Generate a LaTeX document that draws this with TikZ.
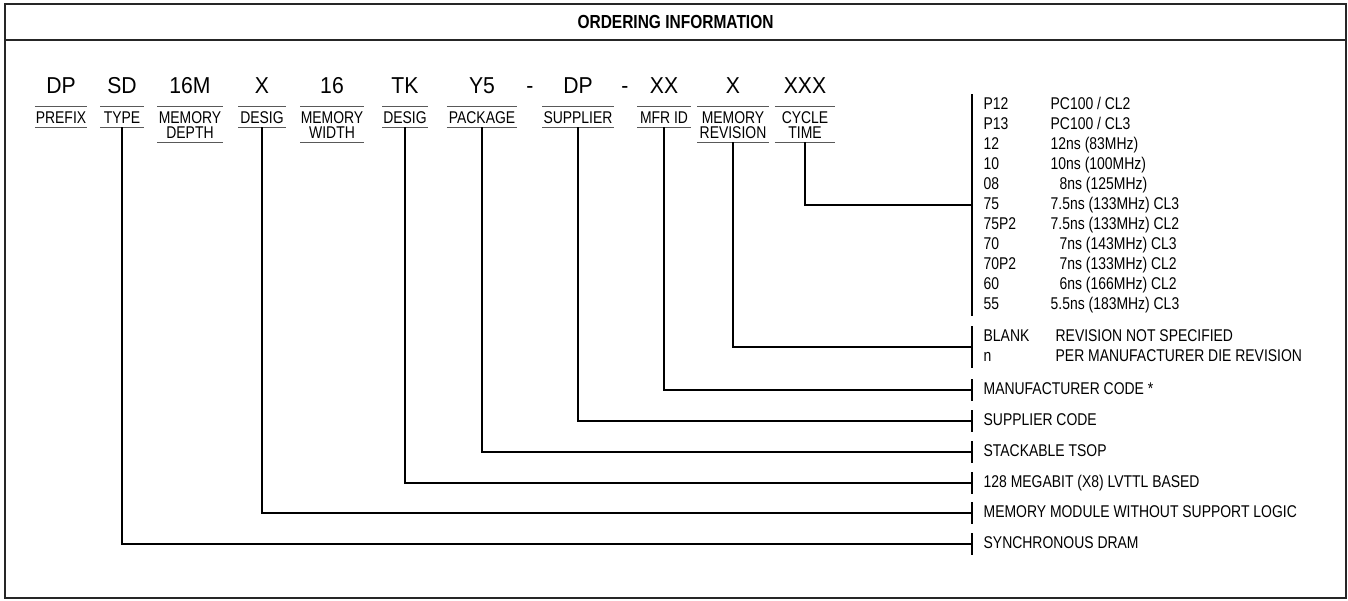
\documentclass[tikz,border=0pt]{standalone}
\usepackage{fontspec}
\setmainfont{Liberation Sans}[FakeStretch=0.82]
\newfontfamily\codefont{Liberation Sans}[FakeStretch=0.92]

\begin{document}
\begin{tikzpicture}[
    x=1pt, y=-1pt,
    line width=1.3pt,
    frame/.style={line width=2.2pt, black!85},
    rule/.style={line width=1pt, black!65},
    codetxt/.style={anchor=base, inner sep=0pt, font=\codefont\fontsize{23}{23}\selectfont},
    fieldlbl/.style={anchor=base, inner xsep=0pt, inner ysep=3.5pt, text height=12.2pt,
      text depth=0pt, align=center, minimum width=#1, font=\fontsize{17}{15}\selectfont},
    fieldlbl2/.style={fieldlbl=#1, text height=27.2pt},
    group/.style={anchor=west, inner xsep=11pt, inner ysep=0pt, font=\fontsize{17}{20}\selectfont}
  ]
    \useasboundingbox (0,0) rectangle (1348,600);

    % 1. Frame and title
    \draw[frame] (5,4) rectangle (1346,598);
    \draw[frame] (5,40) -- (1346,40);
    \node[font=\bfseries\fontsize{18.9}{18}\selectfont] (title) at (675.5,22) {ORDERING INFORMATION};

    % 2. Code fields
    \node[codetxt] (pfx) at (61,93) {DP};
    \node[codetxt] (typ) at (122,93) {SD};
    \node[codetxt] (mdp) at (190,93) {16M};
    \node[codetxt] (dsx) at (262,93) {X};
    \node[codetxt] (mwd) at (332,93) {16};
    \node[codetxt] (dsk) at (405,93) {TK};
    \node[codetxt] (pkg) at (482,93) {Y5};
    \node[codetxt] (dash1) at (530,93) {-};
    \node[codetxt] (sup) at (578,93) {DP};
    \node[codetxt] (dash2) at (625,93) {-};
    \node[codetxt] (mfr) at (664,93) {XX};
    \node[codetxt] (rev) at (733,93) {X};
    \node[codetxt] (cyc) at (805,93) {XXX};

    % 3. Field names (two-line ones sit on their last line)
    \node[fieldlbl=51pt] (pfxL) at (61,123) {PREFIX};
    \node[fieldlbl=42pt] (typL) at (122,123) {TYPE};
    \node[fieldlbl2=64pt] (mdpL) at (190,138) {MEMORY\\DEPTH};
    \node[fieldlbl=46pt] (dsxL) at (262,123) {DESIG};
    \node[fieldlbl2=62pt] (mwdL) at (332,138) {MEMORY\\WIDTH};
    \node[fieldlbl=44pt] (dskL) at (405,123) {DESIG};
    \node[fieldlbl=69pt] (pkgL) at (482,123) {PACKAGE};
    \node[fieldlbl=70pt] (supL) at (578,123) {SUPPLIER};
    \node[fieldlbl=52pt] (mfrL) at (664,123) {MFR ID};
    \node[fieldlbl2=70pt] (revL) at (733,138) {MEMORY\\REVISION};
    \node[fieldlbl2=59pt] (cycL) at (805,138) {CYCLE\\TIME};

    \foreach \f in {pfxL,typL,mdpL,dsxL,mwdL,dskL,pkgL,supL,mfrL,revL,cycL} {
        \draw[rule] (\f.north west) -- (\f.north east);
        \draw[rule] (\f.south west) -- (\f.south east);
    }

    % 4. Option lists
    \node[group] (cycle) at (972,205) {%
      \begin{tabular}{@{}p{67pt}@{}l@{}}
        P12 & PC100 / CL2\\
        P13 & PC100 / CL3\\
        12 & 12ns (83MHz)\\
        10 & 10ns (100MHz)\\
        08 & \hspace*{9pt}8ns (125MHz)\\
        75 & 7.5ns (133MHz) CL3\\
        75P2 & 7.5ns (133MHz) CL2\\
        70 & \hspace*{9pt}7ns (143MHz) CL3\\
        70P2 & \hspace*{9pt}7ns (133MHz) CL2\\
        60 & \hspace*{9pt}6ns (166MHz) CL2\\
        55 & 5.5ns (183MHz) CL3
      \end{tabular}};
    \node[group] (revision) at (972,347) {%
      \begin{tabular}{@{}p{72pt}@{}l@{}}
        BLANK & REVISION NOT SPECIFIED\\
        n & PER MANUFACTURER DIE REVISION
      \end{tabular}};
    \node[group] (mfrcode) at (972,390) {\strut MANUFACTURER CODE *};
    \node[group] (supcode) at (972,421) {\strut SUPPLIER CODE};
    \node[group] (tsop) at (972,452) {\strut STACKABLE TSOP};
    \node[group] (mbit) at (972,483) {\strut 128 MEGABIT (X8) LVTTL BASED};
    \node[group] (module) at (972,513) {\strut MEMORY MODULE WITHOUT SUPPORT LOGIC};
    \node[group] (sdram) at (972,544) {\strut SYNCHRONOUS DRAM};

    \foreach \g in {cycle,revision,mfrcode,supcode,tsop,mbit,module,sdram} {
        \draw (\g.north west) -- (\g.south west);
    }

    % 5. Connectors
    \draw (cycL.south) |- (cycle.west);
    \draw (revL.south) |- (revision.west);
    \draw (mfrL.south) |- (mfrcode.west);
    \draw (supL.south) |- (supcode.west);
    \draw (pkgL.south) |- (tsop.west);
    \draw (dskL.south) |- (mbit.west);
    \draw (dsxL.south) |- (module.west);
    \draw (typL.south) |- (sdram.west);

  \end{tikzpicture}
\end{document}
